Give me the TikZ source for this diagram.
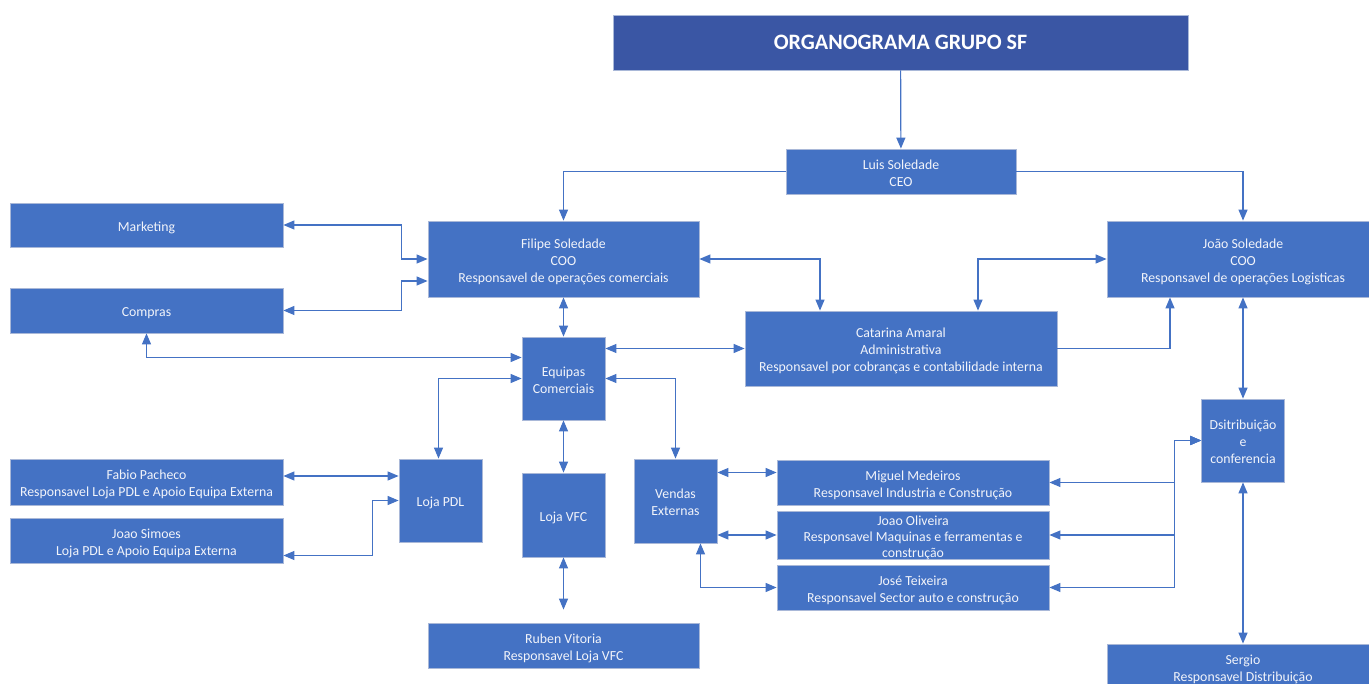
\documentclass[tikz,border=0pt]{standalone}
\usepackage{fontspec}
\setmainfont{Carlito}
\usetikzlibrary{arrows.meta}
\definecolor{boxblue}{HTML}{4472C4}
\definecolor{titleblue}{HTML}{3A56A4}
\definecolor{edgegray}{HTML}{A9B8D8}
\definecolor{textwhite}{HTML}{F2F4FA}
\newcommand{\lowtext}[1]{\raisebox{-3pt}[\height][\depth]{\begin{tabular}{@{}c@{}}#1\end{tabular}}}
\tikzstyle{unit} = [
    rectangle,
    fill=boxblue,
    draw=edgegray,
    line width=0.8pt,
    text=textwhite,
    inner sep=0pt,
    font=\fontsize{13.8}{17}\selectfont
]
\tikzstyle{wide} = [unit, minimum width=273pt, minimum height=45pt]
\tikzstyle{square} = [unit, minimum width=83pt, minimum height=83pt]
\tikzstyle{headline} = [
    rectangle,
    fill=titleblue,
    draw=edgegray,
    line width=0.8pt,
    text=white,
    minimum width=575pt,
    minimum height=55pt,
    font=\fontsize{22}{26}\selectfont\bfseries
]
\tikzstyle{link} = [line width=1.2pt, draw=boxblue, <->, >={Triangle[length=11pt,width=9pt]}]
\tikzstyle{linkto} = [link, ->]

\begin{document}
\begin{tikzpicture}[x=1pt, y=-1pt]

\useasboundingbox (0,0) rectangle (1369,684);
\clip (0,0) rectangle (1369,684);

\node (title) [headline] at (900.5,42.5) {ORGANOGRAMA GRUPO SF};

\node (luis) [unit, minimum width=230pt, minimum height=45pt] at (901,171.5)
{\lowtext{Luis Soledade\\CEO}};

\node (filipe) [unit, minimum width=271pt, minimum height=76pt] at (563.5,259)
{\lowtext{Filipe Soledade\\COO\\Responsavel de operações comerciais}};

\node (joao) [unit, minimum width=272pt, minimum height=76pt] at (1243,259)
{\lowtext{João Soledade\\COO\\Responsavel de operações Logisticas}};

\node (marketing) [wide, minimum height=44pt] at (146.5,225) {\lowtext{Marketing}};

\node (compras) [wide] at (146.5,310.5) {\lowtext{Compras}};

\node (equipas) [square] at (563.5,378.5) {\lowtext{Equipas\\Comerciais}};

\node (catarina) [unit, minimum width=312pt, minimum height=75pt] at (901,348.5)
{\lowtext{Catarina Amaral\\Administrativa\\Responsavel por cobranças e contabilidade interna}};

\node (dist) [square] at (1243,440.5) {\lowtext{Dsitribuição\\e\\conferencia}};

\node (lojapdl) [square] at (440.5,500.5) {\lowtext{Loja PDL}};

\node (lojavfc) [square, minimum height=84pt] at (563.5,515) {\lowtext{Loja VFC}};

\node (vendas) [square, minimum height=84pt] at (675.5,501) {\lowtext{Vendas\\Externas}};

\node (fabio) [wide, minimum height=46pt] at (146.5,482)
{\lowtext{Fabio Pacheco\\Responsavel Loja PDL e Apoio Equipa Externa}};

\node (simoes) [wide] at (146.5,540.5)
{\lowtext{Joao Simoes\\Loja PDL e Apoio Equipa Externa}};

\node (ruben) [wide, minimum width=271pt] at (563.5,645.5)
{\lowtext{Ruben Vitoria\\Responsavel Loja VFC}};

\node (miguel) [wide, minimum width=272pt] at (913,482.5)
{\lowtext{Miguel Medeiros\\Responsavel Industria e Construção}};

\node (oliveira) [wide, minimum width=272pt, minimum height=46pt,
    font=\fontsize{13.8}{16}\selectfont] at (913,535)
{\lowtext{Joao Oliveira\\Responsavel Maquinas e ferramentas e\\construção}};

\node (jose) [wide, minimum width=272pt] at (913,587.5)
{\lowtext{José Teixeira\\Responsavel Sector auto e construção}};

\node (sergio) [wide, minimum width=272pt] at (1243,666.5)
{\lowtext{Sergio\\Responsavel Distribuição}};

\draw [linkto] (title) -- (luis);
\draw [linkto] (luis.west) -| (filipe.north);
\draw [linkto] (luis.east) -| (joao.north);
\draw [link] (marketing.east) -- ++(118,0) |- (filipe.west);
\draw [link] (compras.east) -- ++(118,0) |- ([yshift=-22pt]filipe.west);
\draw [link] (compras.south) |- ([yshift=21pt]equipas.west);
\draw [link] (filipe.south) -- (equipas.north);
\draw [link] (filipe.east) -| ([xshift=-81pt]catarina.north);
\draw [link] (equipas.east |- catarina.west) -- (catarina.west);
\draw [linkto] (catarina.east) -| ([xshift=-73pt]joao.south);
\draw [link] (joao.west) -| ([xshift=77pt]catarina.north);
\draw [link] (joao.south) -- (dist.north);
\draw [link] (equipas.west) -| ([xshift=-2pt]lojapdl.north);
\draw [link] (equipas.east) -| (vendas.north);
\draw [link] (equipas.south) -- (lojavfc.north);
\draw [link, shorten >=13pt] (lojavfc.south) -- (ruben.north);
\draw [link] ([yshift=6pt]fabio.east) -- ([yshift=6pt]fabio.east -| lojapdl.west);
\draw [link] ([yshift=-15pt]simoes.east) -- ++(89,0) |- (lojapdl.west);
\draw [link] ([yshift=10pt]miguel.west -| vendas.east) -- ([yshift=10pt]miguel.west);
\draw [link] (oliveira.west -| vendas.east) -- (oliveira.west);
\draw [link] ([xshift=25pt]vendas.south) |- (jose.west);
\draw [link] (dist.west) -- ++(-27,0) |- (miguel.east);
\draw [link] (dist.west) -- ++(-27,0) |- (oliveira.east);
\draw [link] (dist.west) -- ++(-27,0) |- (jose.east);
\draw [link] (dist.south) -- (sergio.north);

\end{tikzpicture}
\end{document}
